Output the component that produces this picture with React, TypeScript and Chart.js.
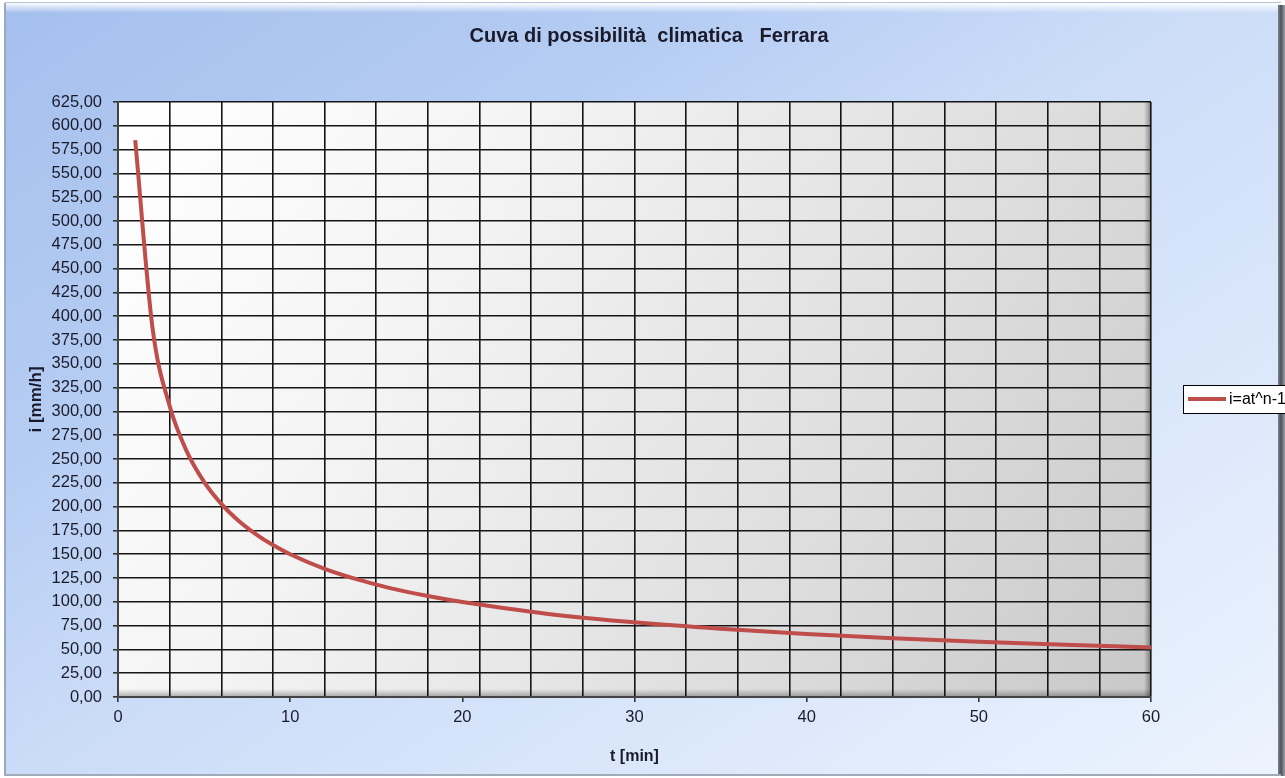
import React, { useEffect, useRef } from 'react';
import { Chart, registerables } from 'chart.js';

Chart.register(...registerables);

const W = 1285;
const H = 778;

const chartTitle = 'Cuva di possibilità  climatica   Ferrara';
const xTitle = 't [min]';
const yTitle = 'i [mm/h]';
const seriesLabel = 'i=at^n-1';

// duration t [min]
const tValues = [1, 2, 3, 4, 5, 6, 7, 8, 9, 10, 12, 14, 15, 16, 18, 20, 25, 30, 35, 40, 45, 50, 55, 60];
// intensity i [mm/h]
const iValues = [585.0, 388.4, 305.6, 257.8, 226.0, 202.9, 185.2, 171.2, 159.6, 150.0, 134.7, 123.0, 118.1, 113.6, 106.0, 99.7, 87.3, 78.4, 71.6, 66.1, 61.7, 58.0, 54.8, 52.1];

const yMin = 0;
const yMax = 625;
const yStep = 25;
const xMin = 0;
const xMax = 60;
const xGridEvery = 3;
const xLabelEvery = 10;

const FONT = "'Liberation Sans', Arial, sans-serif";
const TEXT = '#1a1a2a';
const RED = '#bf4d4a';

const decor = {
  id: 'decor',
  beforeDraw(chart: any) {
    const { ctx, chartArea: a } = chart;
    ctx.save();
    ctx.fillStyle = '#ffffff';
    ctx.fillRect(0, 0, W, H);

    const g = ctx.createLinearGradient(0, 0, 754.5, 1131.7);
    g.addColorStop(0, '#a3bfed');
    g.addColorStop(0.05, '#a7c2ee');
    g.addColorStop(0.29, '#b6cdf3');
    g.addColorStop(0.48, '#cbdcf8');
    g.addColorStop(0.95, '#e9f1fd');
    g.addColorStop(1, '#edf4fe');
    ctx.fillStyle = g;
    ctx.fillRect(5, 3, 1276, 773);

    const th = ctx.createLinearGradient(0, 3, 0, 13);
    th.addColorStop(0, 'rgba(255,255,255,0.95)');
    th.addColorStop(1, 'rgba(255,255,255,0)');
    ctx.fillStyle = th;
    ctx.fillRect(5, 3, 1276, 10);
    ctx.fillStyle = '#b8c4d4';
    ctx.fillRect(5, 2, 1276, 1);

    ctx.fillStyle = '#9aa8bd';
    ctx.fillRect(4, 3, 2, 773);

    const rs = ctx.createLinearGradient(1277, 0, 1285, 0);
    rs.addColorStop(0, '#8a929c');
    rs.addColorStop(0.5, '#4e545c');
    rs.addColorStop(1, '#9aa0a8');
    ctx.fillStyle = rs;
    ctx.fillRect(1278, 5, 7, 771);

    ctx.fillStyle = '#a0aab8';
    ctx.fillRect(5, 774, 1276, 2);

    const pg = ctx.createLinearGradient(a.left, a.top, a.right, a.bottom);
    pg.addColorStop(0, '#ffffff');
    pg.addColorStop(0.3, '#f4f4f4');
    pg.addColorStop(0.7, '#dddddd');
    pg.addColorStop(1, '#c8c8c8');
    ctx.fillStyle = pg;
    ctx.fillRect(a.left, a.top, a.right - a.left, a.bottom - a.top);

    const bs = ctx.createLinearGradient(0, a.bottom - 8, 0, a.bottom);
    bs.addColorStop(0, 'rgba(0,0,0,0)');
    bs.addColorStop(1, 'rgba(0,0,0,0.3)');
    ctx.fillStyle = bs;
    ctx.fillRect(a.left, a.bottom - 8, a.right - a.left, 8);

    const rsh = ctx.createLinearGradient(a.right - 7, 0, a.right, 0);
    rsh.addColorStop(0, 'rgba(0,0,0,0)');
    rsh.addColorStop(1, 'rgba(0,0,0,0.4)');
    ctx.fillStyle = rsh;
    ctx.fillRect(a.right - 7, a.top, 7, a.bottom - a.top);
    ctx.restore();
  },
  afterDraw(chart: any) {
    const { ctx } = chart;
    ctx.save();
    ctx.fillStyle = TEXT;
    ctx.font = `bold 20px ${FONT}`;
    ctx.textAlign = 'center';
    ctx.textBaseline = 'middle';
    ctx.fillText(chartTitle, 649, 36);

    // legend
    const lx = 1183, ly = 385, lw = 110, lh = 28;
    ctx.fillStyle = '#ffffff';
    ctx.fillRect(lx, ly, lw, lh);
    ctx.strokeStyle = '#000000';
    ctx.lineWidth = 1;
    ctx.strokeRect(lx + 0.5, ly + 0.5, lw, lh);
    const ds = chart.data.datasets[0];
    ctx.strokeStyle = ds.borderColor;
    ctx.lineWidth = 4;
    ctx.beginPath();
    ctx.moveTo(1188, ly + 14);
    ctx.lineTo(1226, ly + 14);
    ctx.stroke();
    ctx.fillStyle = '#000000';
    ctx.font = `16px ${FONT}`;
    ctx.textAlign = 'left';
    ctx.fillText(ds.label, 1229, ly + 14.5);
    ctx.restore();
  },
};

export default function App() {
  const ref = useRef<HTMLCanvasElement | null>(null);

  useEffect(() => {
    if (!ref.current) return;
    const points = tValues.map((t, k) => ({ x: t, y: iValues[k] }));
    const chart = new Chart(ref.current, {
      type: 'line',
      data: {
        datasets: [
          {
            label: seriesLabel,
            data: points,
            borderColor: RED,
            backgroundColor: RED,
            borderWidth: 4,
            pointRadius: 0,
            cubicInterpolationMode: 'monotone',
            fill: false,
          },
        ],
      },
      options: {
        animation: false,
        responsive: false,
        devicePixelRatio: 1,
        layout: { padding: { top: 102, right: 134, left: 0, bottom: 0 } },
        plugins: {
          legend: { display: false },
          title: { display: false },
          tooltip: { enabled: false },
        },
        scales: {
          x: {
            type: 'linear',
            min: xMin,
            max: xMax,
            afterFit: (s: any) => {
              s.height = 81;
            },
            ticks: {
              stepSize: 1,
              autoSkip: false,
              maxRotation: 0,
              padding: 6,
              color: TEXT,
              font: { family: FONT, size: 16.5 },
              callback: (v: any) => (Number(v) % xLabelEvery === 0 ? String(v) : ''),
            },
            grid: {
              color: (c: any) => (c.tick && Math.round(c.tick.value) % xGridEvery === 0 ? '#151515' : 'rgba(0,0,0,0)'),
              tickColor: (c: any) => (c.tick && Math.round(c.tick.value) % xLabelEvery === 0 ? '#333333' : 'rgba(0,0,0,0)'),
              lineWidth: 1.6,
              tickLength: 5,
            },
            border: { display: true, color: '#444444', width: 2 },
            title: {
              display: true,
              text: xTitle,
              color: TEXT,
              font: { family: FONT, size: 16, weight: 'bold' },
              padding: { top: 0, bottom: 12 },
            },
          },
          y: {
            type: 'linear',
            min: yMin,
            max: yMax,
            afterFit: (s: any) => {
              s.width = 118;
            },
            ticks: {
              stepSize: yStep,
              autoSkip: false,
              padding: 11,
              color: TEXT,
              font: { family: FONT, size: 16.5 },
              callback: (v: any) => Number(v).toFixed(2).replace('.', ','),
            },
            grid: {
              color: '#151515',
              tickColor: '#333333',
              lineWidth: 1.6,
              tickLength: 5,
            },
            border: { display: true, color: '#444444', width: 2 },
            title: {
              display: true,
              text: yTitle,
              color: TEXT,
              font: { family: FONT, size: 17, weight: 'bold' },
              padding: { top: 26, bottom: 0 },
            },
          },
        },
      },
      plugins: [decor],
    } as any);
    return () => chart.destroy();
  }, []);

  return (
    <div style={{ position: 'absolute', left: 0, top: 0, width: W, height: H }}>
      <canvas ref={ref} width={W} height={H} style={{ width: W, height: H, display: 'block' }} />
    </div>
  );
}
